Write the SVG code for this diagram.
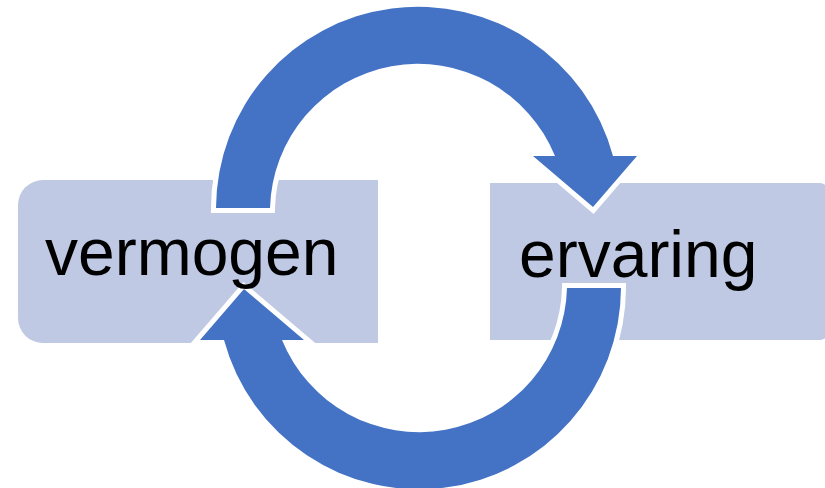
<svg xmlns="http://www.w3.org/2000/svg" width="825" height="488" viewBox="0 0 825 488">
<style>
.box{fill:#BFC9E3;}
.lbl{font-family:"Liberation Sans",Arial,sans-serif;font-size:66px;fill:#000;}
.arc{fill:#4472C4;stroke:#FFFFFF;stroke-width:10;stroke-linejoin:miter;stroke-miterlimit:10;paint-order:stroke;}
</style>
<defs>
<path id="arrowShape" d="M216 208 A202 202 0 0 1 613 156 L637 156 L593 207 L533 156 L555 156 A148 148 0 0 0 270 208 Z"/>
</defs>
<g id="node-vermogen">
<path class="box" d="M378 180 H43 A25 25 0 0 0 18 205 V318 A25 25 0 0 0 43 343 H378 Z"/>
</g>
<g id="node-ervaring">
<path class="box" d="M490 183 H820 A8 8 0 0 1 828 191 V332 A8 8 0 0 1 820 340 H490 Z"/>
</g>
<g id="connectors">
<use href="#arrowShape" class="arc"/>
<use href="#arrowShape" class="arc" transform="rotate(180 418.5 248)"/>
</g>
<g id="labels">
<text class="lbl" x="45" y="275">vermogen</text>
<text class="lbl" x="519" y="277">ervaring</text>
</g>
</svg>
